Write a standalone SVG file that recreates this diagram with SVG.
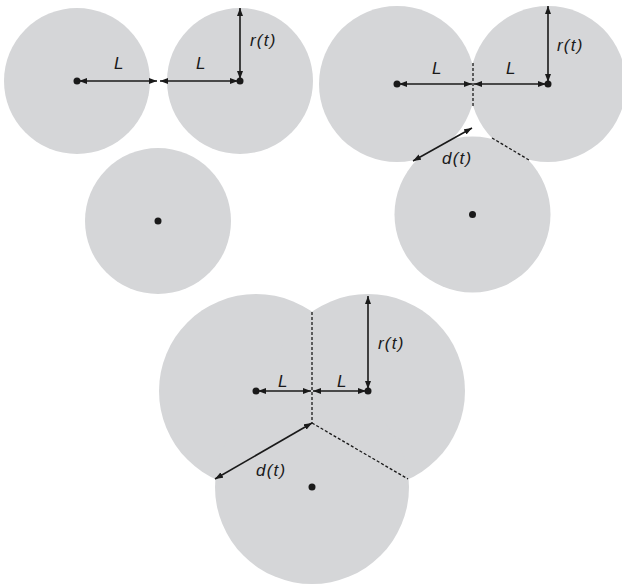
<svg xmlns="http://www.w3.org/2000/svg" width="622" height="586" viewBox="0 0 622 586">
<style>
.disc{fill:#d5d6d8;stroke:none}
.dot{fill:#1a1a1a}
.arr{stroke:#1a1a1a;stroke-width:1.6;fill:none;marker-start:url(#ah);marker-end:url(#ah)}
.dash{stroke:#1a1a1a;stroke-width:1.3;fill:none;stroke-dasharray:3,2}
.lbl{font-family:"Liberation Sans",Arial,sans-serif;font-style:italic;font-size:17px;fill:#1a1a1a}
.fn{letter-spacing:1.2px}
</style>
<defs>
<marker id="ah" viewBox="0 0 8 6" refX="8" refY="3" markerWidth="8" markerHeight="6" markerUnits="userSpaceOnUse" orient="auto-start-reverse">
<path d="M0,0 L8,3 L0,6 z" fill="#1a1a1a"/>
</marker>
</defs>
<rect width="622" height="586" fill="#ffffff"/>

<!-- Panel 1 -->
<g id="p1-left"><circle class="disc" cx="77" cy="81" r="73"/><circle class="dot" cx="77" cy="81" r="3.5"/></g>
<g id="p1-right"><circle class="disc" cx="240" cy="81" r="73"/><circle class="dot" cx="240" cy="81" r="3.5"/></g>
<g id="p1-bottom"><circle class="disc" cx="158" cy="221" r="73"/><circle class="dot" cx="158" cy="221" r="3.5"/></g>

<!-- Panel 2 -->
<g id="p2-left"><circle class="disc" cx="397" cy="84" r="78"/><circle class="dot" cx="397" cy="84" r="3.5"/></g>
<g id="p2-right"><circle class="disc" cx="548" cy="84" r="78"/><circle class="dot" cx="548" cy="84" r="3.5"/></g>
<g id="p2-bottom"><circle class="disc" cx="472.5" cy="214.5" r="78"/><circle class="dot" cx="472.5" cy="214.5" r="3.5"/></g>

<!-- Panel 3 -->
<g id="p3-left"><circle class="disc" cx="256" cy="391" r="97"/><circle class="dot" cx="256" cy="391" r="3.5"/></g>
<g id="p3-right"><circle class="disc" cx="368" cy="391" r="97"/><circle class="dot" cx="368" cy="391" r="3.5"/></g>
<g id="p3-bottom"><circle class="disc" cx="312" cy="487" r="97"/><circle class="dot" cx="312" cy="487" r="3.5"/></g>

<g id="connectors">
<!-- panel 1 -->
<line class="arr" x1="79" y1="81" x2="157" y2="81"/>
<line class="arr" x1="160" y1="81" x2="238" y2="81"/>
<line class="arr" x1="240" y1="79" x2="240" y2="8"/>
<!-- panel 2 -->
<line class="arr" x1="399" y1="84" x2="472" y2="84"/>
<line class="arr" x1="474" y1="84" x2="546" y2="84"/>
<line class="arr" x1="548" y1="82" x2="548" y2="6"/>
<line class="dash" x1="473" y1="63" x2="473" y2="106"/>
<line class="dash" x1="492" y1="138" x2="529" y2="160"/>
<line class="arr" x1="472" y1="128" x2="413" y2="161"/>
<!-- panel 3 -->
<line class="arr" x1="258" y1="391" x2="311" y2="391"/>
<line class="arr" x1="313" y1="391" x2="366" y2="391"/>
<line class="arr" x1="368" y1="389" x2="368" y2="296"/>
<line class="dash" x1="312" y1="312" x2="312" y2="423"/>
<line class="dash" x1="312" y1="423" x2="408" y2="479"/>
<line class="arr" x1="312" y1="423" x2="215" y2="479"/>
</g>

<g id="labels">
<text class="lbl" x="114" y="69">L</text>
<text class="lbl" x="196" y="69">L</text>
<text class="lbl fn" x="250" y="46">r(t)</text>
<text class="lbl" x="432" y="74">L</text>
<text class="lbl" x="506" y="74">L</text>
<text class="lbl fn" x="557" y="51">r(t)</text>
<text class="lbl fn" x="442" y="164">d(t)</text>
<text class="lbl" x="278" y="387">L</text>
<text class="lbl" x="337" y="387">L</text>
<text class="lbl fn" x="378" y="349">r(t)</text>
<text class="lbl fn" x="256" y="476">d(t)</text>
</g>
</svg>
